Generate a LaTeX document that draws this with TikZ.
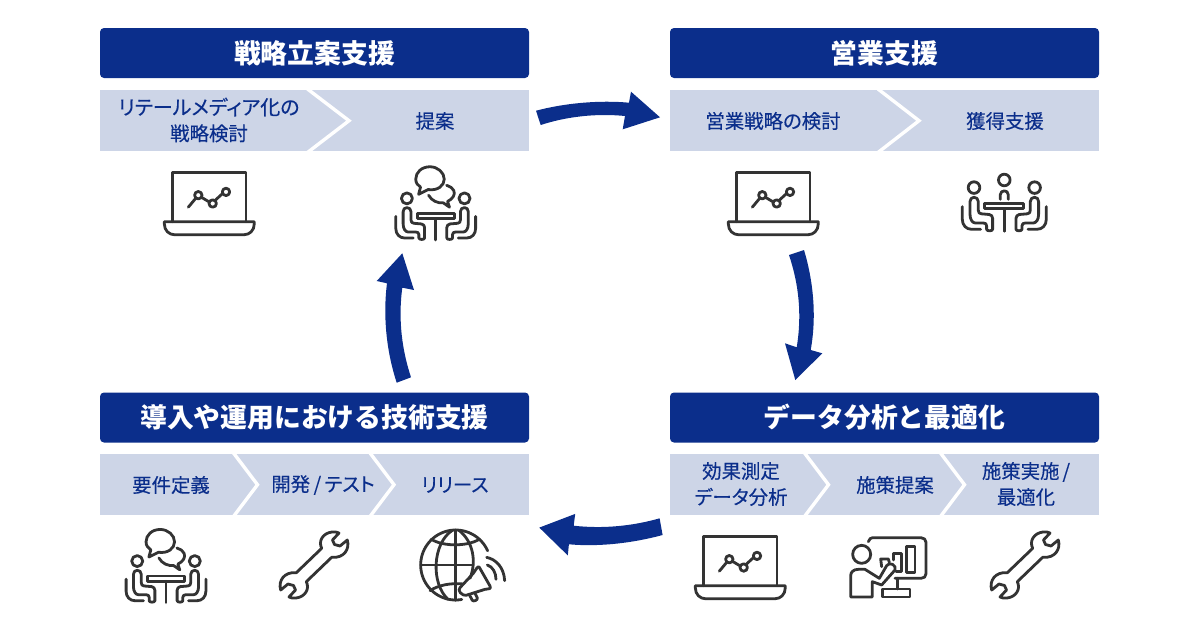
\documentclass[tikz,border=0pt]{standalone}
\usepackage{fontspec}
\setmainfont{Noto Sans CJK JP}
\newfontfamily\stepfont[RawFeature=+palt,FakeBold=0.25]{Noto Sans CJK JP}
\definecolor{navy}{HTML}{0B2E8B}
\definecolor{band}{HTML}{CDD5E7}
\definecolor{ink}{HTML}{333333}
\newcommand{\seatshape}{%
    \draw[icon] (-30.3,-15.7) circle (5.8);
    \draw[icon] (-34.3,11) -- (-34.3,-1.7) .. controls (-34.3,-4.5) and (-32.5,-6) .. (-30.3,-6) .. controls (-28,-6) and (-26,-4.5) .. (-26,-1.7) -- (-26,7) .. controls (-26,9) and (-25,10.5) .. (-23,10.5) -- (-15,11.2) .. controls (-13,11.5) and (-11.7,13) .. (-11.7,15) -- (-11.7,26) .. controls (-11.7,28) and (-17.7,28) .. (-17.7,26) -- (-17.7,22.5) .. controls (-17.7,20.5) and (-19,19.7) .. (-21,19.7) -- (-29,19.7) .. controls (-32,19.7) and (-34.3,16) .. (-34.3,11) -- cycle;
    \draw[icon] (-42,3.3) -- (-42,16) .. controls (-42,22) and (-38,26) .. (-32.7,26) -- (-23.7,26);
}
\newcommand{\tablegroup}{%
    \draw[icon] (-19.5,0) rectangle (19.5,5.5);
    \draw[icon] (0,5.5) -- (0,28);
    \seatshape
    \begin{scope}[xscale=-1]\seatshape\end{scope}
}
\tikzset{
  head/.style={fill=navy,rounded corners=4pt,minimum width=429pt,minimum height=50pt,inner sep=0pt,text=white,font=\fontsize{26.8}{30}\selectfont\bfseries},
  bandbox/.style={fill=band,minimum width=429pt,minimum height=61.5pt,inner sep=0pt},
  steptext/.style={text=navy,align=center,inner sep=0pt,font=\stepfont\fontsize{19.4}{26}\selectfont},
  chev/.style={draw=white,line width=3.4pt,line join=miter},
  flow/.style={fill=navy,draw=none},
  icon/.style={draw=ink,line width=2.8pt,line cap=round,line join=round},
  laptop/.pic={
    \begin{scope}[x=1pt,y=-1pt]
    \draw[icon] (-36.7,37) -- (-36.7,-12) -- (36.7,-12) -- (36.7,37);
    \draw[icon] (-45,37) -- (45,37) -- (45,39) .. controls (45,46) and (40,50) .. (35,50) -- (-35,50) .. controls (-40,50) and (-45,46) .. (-45,39) -- cycle;
    \draw[icon] (-21,22.5) -- (-13.5,13.5) (-8,12.5) -- (-0.5,17) (6,15.5) -- (12.5,9.5);
    \draw[icon] (-11,10.5) circle (3.7) (3.4,18.8) circle (3.7) (16.7,7.2) circle (3.7);
    \end{scope}},
  talk/.pic={
    \begin{scope}[x=.95pt,y=-.95pt]
    \tablegroup
    \draw[icon] (-8,-25) .. controls (2,-23.5) and (9,-29) .. (9,-36) .. controls (9,-43) and (2,-49) .. (-6,-49) .. controls (-15,-49) and (-21,-43) .. (-21,-36) .. controls (-21,-32) and (-19,-29.5) .. (-16,-27.5) -- (-18,-20) -- cycle;
    \draw[icon] (-7.5,-19) .. controls (-4,-13) and (2,-10.5) .. (8,-11) -- (14.5,-6.5) -- (12.5,-12.5) .. controls (18,-15) and (21,-20) .. (19,-24) .. controls (18,-26.5) and (15,-28.5) .. (11.5,-29.5);
    \end{scope}},
  table3/.pic={
    \begin{scope}[x=1pt,y=-1pt]
    \tablegroup
    \draw[icon] (0,-23.3) circle (5.8);
    \draw[icon] (-4,-4) -- (-4,-8.5) .. controls (-4,-11) and (-2,-12.5) .. (0,-12.5) .. controls (2,-12.5) and (4,-11) .. (4,-8.5) -- (4,-4);
    \end{scope}},
  wrench/.pic={
    \begin{scope}[x=1pt,y=-1pt]
    \draw[icon] (7.7,-16.7) .. controls (4,-24) and (9,-32) .. (18,-33) .. controls (21,-33.3) and (23,-33) .. (25,-32) -- (18.5,-25) -- (20.5,-20.5) -- (26,-19) -- (33.3,-25) .. controls (36,-16) and (30,-6.5) .. (17.7,-7.7)
      -- (-7.7,16.7) .. controls (-4,24) and (-9,32) .. (-18,33) .. controls (-21,33.3) and (-23,33) .. (-25,32) -- (-18.5,25) -- (-20.5,20.5) -- (-26,19) -- (-33.3,25) .. controls (-36,16) and (-30,6.5) .. (-17.7,7.7) -- cycle;
    \end{scope}},
  globe/.pic={
    \begin{scope}[x=.3333pt,y=-.3333pt]
    \draw[icon] plot[domain=-24:-280,samples=70] ({137+105*cos(\x)},{135+105*sin(\x)});
    \draw[icon] (137,30) -- (137,241);
    \draw[icon] (32,135) -- (188,135);
    \draw[icon] (127,31) .. controls (67,70) and (62,190) .. (114,238);
    \draw[icon] (147,31) .. controls (190,65) and (200,125) .. (180,175);
    \draw[icon] (64,58) .. controls (100,80) and (170,80) .. (208,58);
    \draw[icon] (60,212) .. controls (85,195) and (125,188) .. (160,192);
    \draw[icon] (150,203) -- (190,160) .. controls (198,148) and (205,135) .. (208,142) -- (240,198) .. controls (245,208) and (235,206) .. (225,208) -- (168,226) .. controls (158,228) and (140,212) .. (150,203) -- cycle;
    \draw[icon] (178,224) -- (187,241) .. controls (190,246) and (204,240) .. (202,234) -- (194,218);
    \draw[icon] (230,112) .. controls (258,118) and (282,142) .. (284,182);
    \draw[icon] (232,135) .. controls (248,140) and (258,158) .. (258,178);
    \end{scope}},
  presenter/.pic={
    \begin{scope}[x=.3333pt,y=-.3333pt]
    \draw[icon] (85,50) .. controls (88,42) and (92,38) .. (98,38) -- (243,38) .. controls (252,38) and (258,44) .. (258,52) -- (258,146) .. controls (258,155) and (252,160) .. (243,160) -- (165,160);
    \draw[icon] (172,160) -- (172,192);
    \draw[icon] (128,192) rectangle (210,216);
    \draw[icon] (65,88) circle (27);
    \draw[icon] (32,216) -- (32,152) .. controls (32,140) and (42,133) .. (55,133) -- (75,133) -- (118,160) -- (140,122) .. controls (148,108) and (172,122) .. (165,135) -- (125,180) -- (97,170) -- (97,216) -- cycle;
    \draw[icon] (200,65) rectangle (225,143);
    \draw[icon] (160,105) -- (160,85) -- (185,85) -- (185,140) -- (168,140);
    \draw[icon] (125,125) -- (122,102) -- (145,102) -- (148,112);
    \end{scope}}
}
\begin{document}
\begin{tikzpicture}[x=1pt,y=-1pt]
\useasboundingbox (0,0) rectangle (1200,630);
% headers
\node[head] (h1) at (314.5,53) {戦略立案支援};
\node[head] (h2) at (884.5,53) {営業支援};
\node[head] (h3) at (314.5,417.5) {導入や運用における技術支援};
\node[head] (h4) at (884.5,417.5) {データ分析と最適化};
% bands
\node[bandbox] (b1) at (314.5,120.7) {};
\node[bandbox] (b2) at (884.5,120.7) {};
\node[bandbox] (b3) at (314.5,484.7) {};
\node[bandbox] (b4) at (884.5,484.7) {};
% chevrons
\draw[chev] (307.5,89) -- (349,120.7) -- (307.5,152.5);
\draw[chev] (878,89) -- (919,120.7) -- (878,152.5);
\draw[chev] (233.5,453) -- (257.5,484.7) -- (233.5,516.5);
\draw[chev] (370,453) -- (394,484.7) -- (370,516.5);
\draw[chev] (804.5,453) -- (828.5,484.7) -- (804.5,516.5);
\draw[chev] (940.5,453) -- (964.5,484.7) -- (940.5,516.5);
% step labels
\node[steptext] (s1) at (209,120) {{\fontsize{20}{26}\selectfont リテールメディア化の}\\戦略検討};
\node[steptext] (s2) at (435,121) {提案};
\node[steptext] (s3) at (773,121) {営業戦略の検討};
\node[steptext] (s4) at (1005,121) {獲得支援};
\node[steptext] (s5) at (171,485) {要件定義};
\node[steptext] (s6) at (323,485) {開発\kern3.5pt/\kern3.5ptテスト};
\node[steptext] (s7) at (455,485) {リリース};
\node[steptext] (s8) at (741,484) {効果測定\\データ分析};
\node[steptext] (s9) at (895,485) {施策提案};
\node[steptext] (s10) at (1026,484) {施策実施\kern3pt/\\最適化};
% flow arrows
\fill[flow] (536,110.7) .. controls (565,103) and (600,100) .. (629,102.7) -- (631,91.7) -- (660,117.3) -- (622.7,129.3) -- (625,116) .. controls (595,113) and (565,117) .. (540.7,125) -- cycle;
\fill[flow] (804,250) .. controls (813,280) and (817,315) .. (810.7,350) -- (822.3,353.3) -- (795.3,380) -- (785,343.3) -- (796.7,347.3) .. controls (802,315) and (799,285) .. (789,255) -- cycle;
\fill[flow] (659.6,518.3) .. controls (633,526) and (603,529) .. (573.7,525.7) -- (575.2,513.9) -- (539.3,527.6) -- (567.8,555.4) -- (568.9,544.3) .. controls (600,547) and (633,543) .. (662.6,535) -- cycle;
\fill[flow] (396.7,382.7) .. controls (386,350) and (383,315) .. (387,283.3) -- (376.7,281) -- (402.3,253.3) -- (414,290) -- (402.3,287.7) .. controls (398,320) and (402,350) .. (411,377.3) -- cycle;
% icons
\pic at (209.3,184.7) {laptop};
\pic at (773.3,184.7) {laptop};
\pic at (740.3,548.7) {laptop};
\pic at (435.7,213.3) {talk};
\pic at (1004.3,203.3) {table3};
\pic at (166,576) {talk};
\pic at (314,565) {wrench};
\pic at (1025,565) {wrench};
\pic at (410,520) {globe};
\pic at (840,525) {presenter};
\end{tikzpicture}
\end{document}
